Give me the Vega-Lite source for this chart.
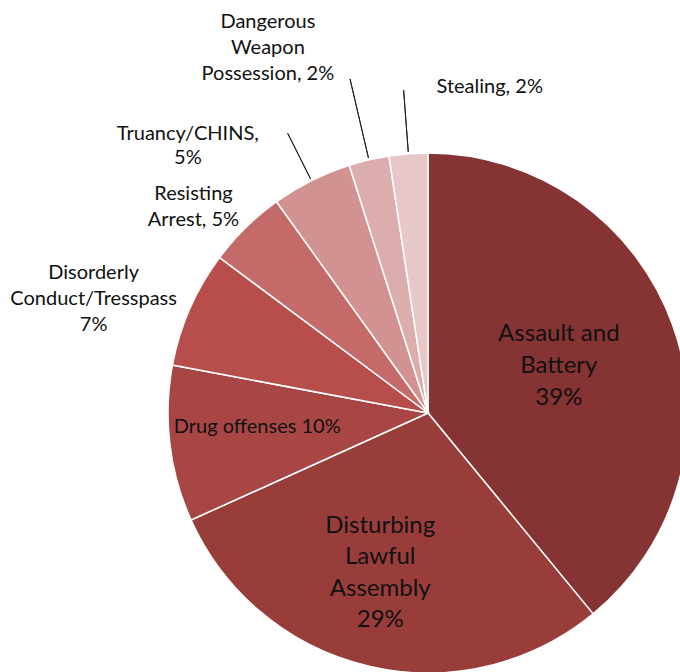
{
  "$schema": "https://vega.github.io/schema/vega-lite/v6.json",
  "width": 856,
  "height": 826,
  "padding": 0,
  "autosize": {"type": "none"},
  "background": "white",
  "config": {"view": {"stroke": null}},
  "data": {"values": [
    {"category": "Assault and Battery", "value": 39.05, "label": "Assault and\nBattery\n39%"},
    {"category": "Disturbing Lawful Assembly", "value": 29.2, "label": "Disturbing\nLawful\nAssembly\n29%"},
    {"category": "Drug offenses", "value": 9.7, "label": "Drug offenses 10%"},
    {"category": "Disorderly Conduct/Tresspass", "value": 7.25, "label": "Disorderly\nConduct/Tresspass\n7%"},
    {"category": "Resisting Arrest", "value": 4.9, "label": "Resisting\nArrest, 5%"},
    {"category": "Truancy/CHINS", "value": 5.0, "label": "Truancy/CHINS,\n5%"},
    {"category": "Dangerous Weapon Possession", "value": 2.5, "label": "Dangerous\nWeapon\nPossession, 2%"},
    {"category": "Stealing", "value": 2.4, "label": "Stealing, 2%"}
  ]},
  "transform": [
    {"window": [{"op": "row_number", "as": "idx"}]},
    {"stack": "value", "groupby": [], "sort": [{"field": "idx"}], "as": ["v0", "v1"]},
    {"calculate": "(datum.v0 + datum.v1) / 2", "as": "mid"}
  ],
  "layer": [
    {
      "mark": {"type": "arc", "outerRadius": 260, "stroke": "white", "strokeWidth": 1.5},
      "encoding": {
        "theta": {"field": "v0", "type": "quantitative", "stack": null, "scale": {"domain": [0, 100]}},
        "theta2": {"field": "v1"},
        "color": {
          "field": "category", "type": "nominal", "legend": null,
          "scale": {
            "domain": ["Assault and Battery", "Disturbing Lawful Assembly", "Drug offenses", "Disorderly Conduct/Tresspass", "Resisting Arrest", "Truancy/CHINS", "Dangerous Weapon Possession", "Stealing"],
            "range": ["#853433", "#993D3B", "#A74644", "#B84E4B", "#C46A68", "#D29291", "#DCADAD", "#E7C7C7"]
          }
        }
      }
    },
    {
      "transform": [{"filter": "datum.category == 'Stealing'"}],
      "mark": {"type": "arc", "innerRadius": 262, "outerRadius": 324, "padAngle": 3, "fill": "transparent", "stroke": "#222222", "strokeWidth": 1},
      "encoding": {
        "theta": {"field": "v0", "type": "quantitative", "stack": null, "scale": {"domain": [0, 100]}},
        "theta2": {"field": "v1"}
      }
    },
    {
      "transform": [{"filter": "datum.category == 'Dangerous Weapon Possession'"}],
      "mark": {"type": "arc", "innerRadius": 262, "outerRadius": 343, "padAngle": 3, "fill": "transparent", "stroke": "#222222", "strokeWidth": 1},
      "encoding": {
        "theta": {"field": "v0", "type": "quantitative", "stack": null, "scale": {"domain": [0, 100]}},
        "theta2": {"field": "v1"}
      }
    },
    {
      "transform": [{"filter": "datum.category == 'Truancy/CHINS'"}],
      "mark": {"type": "arc", "innerRadius": 262, "outerRadius": 313, "padAngle": 3, "fill": "transparent", "stroke": "#222222", "strokeWidth": 1},
      "encoding": {
        "theta": {"field": "v0", "type": "quantitative", "stack": null, "scale": {"domain": [0, 100]}},
        "theta2": {"field": "v1"}
      }
    },
    {
      "transform": [{"filter": "datum.category == 'Assault and Battery'"}],
      "mark": {"type": "text", "radius": 139, "dx": 0, "dy": -32, "font": "Lato", "fontSize": 24, "lineHeight": 32, "lineBreak": "\n", "fill": "#111111"},
      "encoding": {
        "theta": {"field": "mid", "type": "quantitative", "stack": null, "scale": {"domain": [0, 100]}},
        "text": {"field": "label"}
      }
    },
    {
      "transform": [{"filter": "datum.category == 'Disturbing Lawful Assembly'"}],
      "mark": {"type": "text", "radius": 166, "dx": -10, "dy": -49, "font": "Lato", "fontSize": 24, "lineHeight": 31.5, "lineBreak": "\n", "fill": "#111111"},
      "encoding": {
        "theta": {"field": "mid", "type": "quantitative", "stack": null, "scale": {"domain": [0, 100]}},
        "text": {"field": "label"}
      }
    },
    {
      "transform": [{"filter": "datum.category == 'Drug offenses'"}],
      "mark": {"type": "text", "radius": 171, "dx": -1, "dy": -6, "font": "Lato", "fontSize": 20, "lineHeight": 26, "lineBreak": "\n", "fill": "#111111"},
      "encoding": {
        "theta": {"field": "mid", "type": "quantitative", "stack": null, "scale": {"domain": [0, 100]}},
        "text": {"field": "label"}
      }
    },
    {
      "transform": [{"filter": "datum.category == 'Disorderly Conduct/Tresspass'"}],
      "mark": {"type": "text", "radius": 352, "dx": -12, "dy": 1, "font": "Lato", "fontSize": 20, "lineHeight": 26, "lineBreak": "\n", "fill": "#111111"},
      "encoding": {
        "theta": {"field": "mid", "type": "quantitative", "stack": null, "scale": {"domain": [0, 100]}},
        "text": {"field": "label"}
      }
    },
    {
      "transform": [{"filter": "datum.category == 'Resisting Arrest'"}],
      "mark": {"type": "text", "radius": 312, "dx": -16, "dy": 4, "font": "Lato", "fontSize": 20, "lineHeight": 26, "lineBreak": "\n", "fill": "#111111"},
      "encoding": {
        "theta": {"field": "mid", "type": "quantitative", "stack": null, "scale": {"domain": [0, 100]}},
        "text": {"field": "label"}
      }
    },
    {
      "transform": [{"filter": "datum.category == 'Truancy/CHINS'"}],
      "mark": {"type": "text", "radius": 346, "dx": -85, "dy": 30, "font": "Lato", "fontSize": 20, "lineHeight": 24, "lineBreak": "\n", "fill": "#111111"},
      "encoding": {
        "theta": {"field": "mid", "type": "quantitative", "stack": null, "scale": {"domain": [0, 100]}},
        "text": {"field": "label"}
      }
    },
    {
      "transform": [{"filter": "datum.category == 'Dangerous Weapon Possession'"}],
      "mark": {"type": "text", "radius": 392, "dx": -71, "dy": -9, "font": "Lato", "fontSize": 20, "lineHeight": 26, "lineBreak": "\n", "fill": "#111111"},
      "encoding": {
        "theta": {"field": "mid", "type": "quantitative", "stack": null, "scale": {"domain": [0, 100]}},
        "text": {"field": "label"}
      }
    },
    {
      "transform": [{"filter": "datum.category == 'Stealing'"}],
      "mark": {"type": "text", "radius": 325, "dx": 33, "dy": -2, "align": "left", "font": "Lato", "fontSize": 20, "lineHeight": 26, "lineBreak": "\n", "fill": "#111111"},
      "encoding": {
        "theta": {"field": "mid", "type": "quantitative", "stack": null, "scale": {"domain": [0, 100]}},
        "text": {"field": "label"}
      }
    }
  ]
}
